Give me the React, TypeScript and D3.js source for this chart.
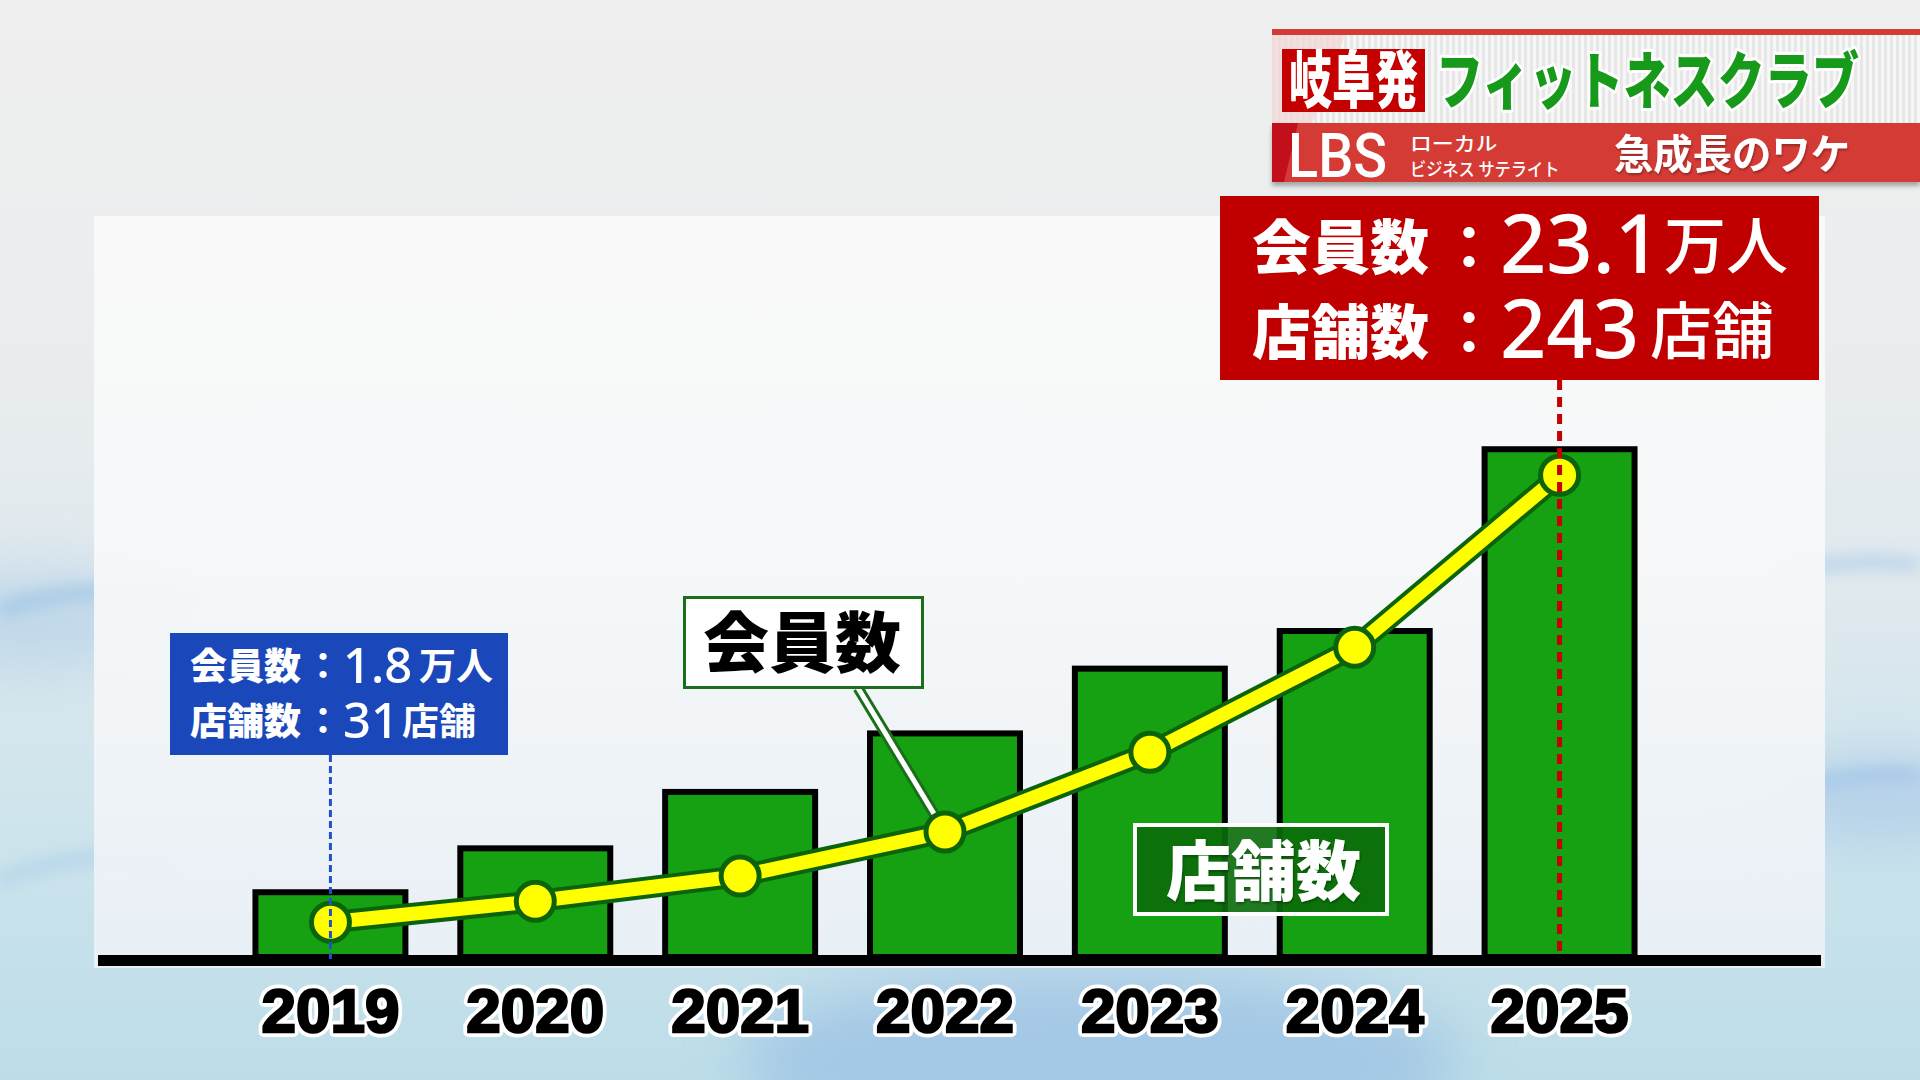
import React from 'react';
import * as d3 from 'd3';

// Fiscal years on the category axis
const years: string[] = ['2019', '2020', '2021', '2022', '2023', '2024', '2025'];
// Number of club locations (bars)
const storeCounts: number[] = [31, 52, 79, 107, 138, 156, 243];
// Members, in units of 10,000 (万人) (line)
const members: number[] = [1.8, 2.8, 4.0, 6.1, 9.9, 14.9, 23.1];

const W = 1920;
const H = 1080;

const CJK = '"Noto Sans CJK JP", "Noto Sans CJK SC", sans-serif';
const NUM = '"Noto Sans", "Open Sans", sans-serif';

type CondProps = {
  x: number;
  y: number;
  sx: number;
  children: React.ReactNode;
} & React.SVGProps<SVGTextElement>;

// Horizontally condensed text, squeezed with a transform
function CondText({ x, y, sx, children, ...rest }: CondProps) {
  return (
    <text transform={`translate(${x},${y}) scale(${sx},1)`} {...rest}>
      {children}
    </text>
  );
}

export default function App() {
  const x = d3
    .scaleBand<string>()
    .domain(years)
    .range([228, 1662])
    .paddingInner(0.268)
    .paddingOuter(0.134);
  const yBar = d3.scaleLinear().domain([0, 250]).range([957, 434.6]);
  const yLine = d3.scaleLinear().domain([0, 25]).range([960, 435.4]);

  const cx = (yr: string) => (x(yr) as number) + x.bandwidth() / 2;
  const pts: [number, number][] = years.map((yr, i) => [cx(yr), yLine(members[i])]);
  const linePath = d3.line()(pts) as string;

  const first = 0;
  const last = years.length - 1;
  const firstX = cx(years[first]);
  const lastX = cx(years[last]);
  const baseTop = 955;

  // pointer from the 会員数 callout to the 2022 point
  const callIdx = 3;
  const callPt = pts[callIdx];

  return (
    <svg
      width={W}
      height={H}
      viewBox={`0 0 ${W} ${H}`}
      style={{ position: 'absolute', left: 0, top: 0, display: 'block' }}
    >
      <defs>
        <linearGradient id="bg" x1="0" y1="0" x2="0" y2="1">
          <stop offset="0" stopColor="#efefef" />
          <stop offset="0.3" stopColor="#ebedee" />
          <stop offset="0.55" stopColor="#dfe9ee" />
          <stop offset="0.8" stopColor="#cbe3ec" />
          <stop offset="1" stopColor="#bcdde8" />
        </linearGradient>
        <linearGradient id="panel" x1="0" y1="0" x2="0" y2="1">
          <stop offset="0" stopColor="#fafafa" />
          <stop offset="0.5" stopColor="#f6f8f9" />
          <stop offset="1" stopColor="#eaf0f6" />
        </linearGradient>
        <filter id="blur30" x="-50%" y="-50%" width="200%" height="200%">
          <feGaussianBlur stdDeviation="30" />
        </filter>
        <filter id="blur8" x="-20%" y="-50%" width="140%" height="200%">
          <feGaussianBlur stdDeviation="8" />
        </filter>
        <pattern id="stripes" width="6" height="10" patternUnits="userSpaceOnUse">
          <rect width="6" height="10" fill="#f6f6f6" />
          <rect width="3" height="10" fill="#e7e7e7" />
        </pattern>
        <filter id="shadow" x="-5%" y="-20%" width="110%" height="160%">
          <feDropShadow dx="0" dy="4" stdDeviation="2" floodColor="#000" floodOpacity="0.3" />
        </filter>
        <filter id="txtShadow" x="-5%" y="-20%" width="110%" height="150%">
          <feDropShadow dx="1" dy="2" stdDeviation="1" floodColor="#000" floodOpacity="0.3" />
        </filter>
      </defs>

      {/* backdrop */}
      <rect width={W} height={H} fill="url(#bg)" />
      <g filter="url(#blur30)" opacity={0.55}>
        <ellipse cx={1100} cy={1060} rx={360} ry={90} fill="#8fb6e3" />
        <ellipse cx={1880} cy={800} rx={120} ry={40} fill="#9cc0e6" />
        <ellipse cx={30} cy={620} rx={140} ry={50} fill="#a9cbe6" />
      </g>
      <g filter="url(#blur8)" opacity={0.6}>
        <path d="M0,610 C60,590 120,585 200,600" stroke="#8ebbe2" strokeWidth={14} fill="none" />
        <path d="M0,880 C50,860 110,850 180,862" stroke="#9cc4e6" strokeWidth={10} fill="none" />
        <path d="M1780,575 C1830,560 1880,560 1920,565" stroke="#9cc0e8" strokeWidth={12} fill="none" />
        <path d="M1790,790 C1840,775 1890,772 1920,776" stroke="#8fb8e6" strokeWidth={12} fill="none" />
      </g>

      {/* chart panel */}
      <rect x={94} y={216} width={1731} height={752} fill="url(#panel)" opacity={0.95} />

      {/* store-count bars */}
      <g>
        {years.map((yr, i) => (
          <rect
            key={yr}
            x={x(yr)}
            y={yBar(storeCounts[i])}
            width={x.bandwidth()}
            height={yBar(0) - yBar(storeCounts[i])}
            fill="#16a112"
            stroke="#000"
            strokeWidth={6}
          />
        ))}
      </g>

      {/* category axis line */}
      <rect x={98} y={baseTop} width={1723} height={11} fill="#000" />

      {/* member line */}
      <path d={linePath} fill="none" stroke="#0b640b" strokeWidth={22} strokeLinejoin="round" strokeLinecap="round" />
      <path d={linePath} fill="none" stroke="#ffff00" strokeWidth={14} strokeLinejoin="round" strokeLinecap="round" />

      {/* 会員数 callout pointer */}
      <line x1={858} y1={688} x2={callPt[0]} y2={callPt[1]} stroke="#1b6e1b" strokeWidth={11} />
      <line x1={858} y1={688} x2={callPt[0]} y2={callPt[1]} stroke="#ffffff" strokeWidth={5} />

      {/* member points */}
      {pts.map(([px, py], i) => (
        <circle key={years[i]} cx={px} cy={py} r={19} fill="#ffff00" stroke="#0b640b" strokeWidth={5} />
      ))}

      {/* guide lines for first / last year */}
      <line
        x1={firstX}
        y1={755}
        x2={firstX}
        y2={baseTop + 4}
        stroke="#1f52c8"
        strokeWidth={3}
        strokeDasharray="7 4"
      />
      <line
        x1={lastX}
        y1={380}
        x2={lastX}
        y2={baseTop + 2}
        stroke="#c40000"
        strokeWidth={5}
        strokeDasharray="10 7"
      />

      {/* year labels */}
      <g fontFamily='"Liberation Sans", Arial, sans-serif' fontWeight={700} fontSize={62} textAnchor="middle">
        {years.map((yr) => (
          <text
            key={yr}
            x={cx(yr)}
            y={1032}
            fill="#000"
            stroke="#ffffff"
            strokeWidth={10}
            strokeLinejoin="round"
            style={{ paintOrder: 'stroke' }}
          >
            {yr}
          </text>
        ))}
        {years.map((yr) => (
          <text key={'b' + yr} x={cx(yr)} y={1032} fill="#000" stroke="#000" strokeWidth={2.5}>
            {yr}
          </text>
        ))}
      </g>

      {/* 会員数 callout */}
      <rect x={684.5} y={597.5} width={238} height={90} fill="#ffffff" stroke="#1b6e1b" strokeWidth={3} />
      <text x={703} y={667} fontFamily={CJK} fontWeight={900} fontSize={66} fill="#000">
        会員数
      </text>

      {/* 店舗数 callout */}
      <rect x={1135} y={825} width={252} height={89} fill="#0b6c0b" fillOpacity={0.9} stroke="#ffffff" strokeWidth={4} />
      <text
        x={1166}
        y={895}
        fontFamily={CJK}
        fontWeight={900}
        fontSize={65}
        fill="#ffffff"
        filter="url(#txtShadow)"
      >
        店舗数
      </text>

      {/* first-year annotation */}
      <g>
        <rect x={170} y={633} width={338} height={122} fill="#1a48ba" />
        <g fill="#ffffff">
          <text x={190} y={680} fontFamily={CJK} fontWeight={900} fontSize={37}>
            会員数
          </text>
          <text x={323} y={680} fontFamily={CJK} fontWeight={700} fontSize={37} textAnchor="middle">
            ：
          </text>
          <text x={343} y={683} fontFamily={NUM} fontWeight={500} fontSize={49}>
            {String(members[first])}
          </text>
          <text x={419} y={680} fontFamily={CJK} fontWeight={700} fontSize={37}>
            万人
          </text>
          <text x={190} y={735} fontFamily={CJK} fontWeight={900} fontSize={37}>
            店舗数
          </text>
          <text x={323} y={735} fontFamily={CJK} fontWeight={700} fontSize={37} textAnchor="middle">
            ：
          </text>
          <text x={343} y={738} fontFamily={NUM} fontWeight={500} fontSize={49}>
            {String(storeCounts[first])}
          </text>
          <text x={402} y={735} fontFamily={CJK} fontWeight={700} fontSize={37}>
            店舗
          </text>
        </g>
      </g>

      {/* header strip */}
      <g>
        <rect x={1272} y={35} width={648} height={88} fill="url(#stripes)" />
        <polygon points="1272,35 1345,35 1312,123 1272,123" fill="#f3d6d6" opacity={0.7} />
        <rect x={1272} y={29} width={648} height={6} fill="#d33b37" />
        <rect x={1272} y={123} width={648} height={59} fill="#d53a36" filter="url(#shadow)" />
        <polygon points="1272,123 1298,123 1284,182 1272,182" fill="#c20f1c" />
        <rect x={1282} y={49} width={143} height={63} fill="#c50000" />
        <CondText x={1289} y={103} sx={0.694} fontFamily={CJK} fontWeight={900} fontSize={62} fill="#ffffff">
          岐阜発
        </CondText>
        <CondText
          x={1436}
          y={104}
          sx={0.76}
          fontFamily={CJK}
          fontWeight={900}
          fontSize={62}
          fill="#17991a"
          stroke="#ffffff"
          strokeWidth={6}
          strokeLinejoin="round"
          style={{ paintOrder: 'stroke' }}
        >
          フィットネスクラブ
        </CondText>
        <CondText
          x={1288}
          y={177}
          sx={0.9}
          fontFamily='Roboto, "Liberation Sans", sans-serif'
          fontWeight={500}
          fontSize={62}
          fill="#ffffff"
        >
          LBS
        </CondText>
        <CondText x={1410} y={151} sx={1.15} fontFamily={CJK} fontWeight={500} fontSize={19} fill="#ffffff">
          ローカル
        </CondText>
        <CondText x={1410} y={176} sx={0.9} fontFamily={CJK} fontWeight={500} fontSize={18} fill="#ffffff">
          ビジネス サテライト
        </CondText>
        <CondText
          x={1614}
          y={169}
          sx={0.96}
          fontFamily={CJK}
          fontWeight={700}
          fontSize={41}
          fill="#ffffff"
          filter="url(#txtShadow)"
        >
          急成長のワケ
        </CondText>
      </g>

      {/* last-year annotation */}
      <g>
        <rect x={1220} y={196} width={599} height={184} fill="#c00000" />
        <g fill="#ffffff">
          <text x={1252} y={269} fontFamily={CJK} fontWeight={900} fontSize={59}>
            会員数
          </text>
          <text x={1469} y={269} fontFamily={CJK} fontWeight={700} fontSize={59} textAnchor="middle">
            ：
          </text>
          <text x={1500} y={273} fontFamily={NUM} fontWeight={500} fontSize={81}>
            {String(members[last])}
          </text>
          <text x={1664} y={269} fontFamily={CJK} fontWeight={500} fontSize={62}>
            万人
          </text>
          <text x={1252} y={354} fontFamily={CJK} fontWeight={900} fontSize={59}>
            店舗数
          </text>
          <text x={1469} y={354} fontFamily={CJK} fontWeight={700} fontSize={59} textAnchor="middle">
            ：
          </text>
          <text x={1500} y={358} fontFamily={NUM} fontWeight={500} fontSize={81}>
            {String(storeCounts[last])}
          </text>
          <text x={1650} y={354} fontFamily={CJK} fontWeight={500} fontSize={62}>
            店舗
          </text>
        </g>
      </g>
    </svg>
  );
}
